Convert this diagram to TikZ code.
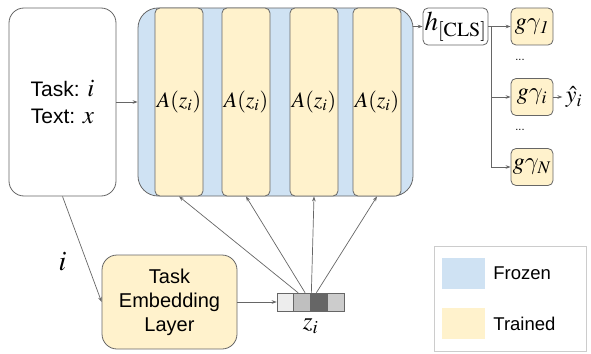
\documentclass[tikz,border=0pt]{standalone}
\usepackage{mathptmx}
\usepackage[no-math]{fontspec}
\setmainfont{Liberation Sans}
\usepackage{xcolor}
\usepackage{tikz}
\usetikzlibrary{calc,positioning,arrows.meta}
\definecolor{frozen}{HTML}{CFE2F3}
\definecolor{trained}{HTML}{FFF2CC}
\definecolor{edge}{HTML}{666666}
\DeclareSymbolFont{lmletters}{OML}{lmm}{m}{it}
\DeclareMathSymbol{\lmgamma}{\mathord}{lmletters}{"0D}

\begin{document}
\begin{tikzpicture}[x=1pt,y=-1pt,>={Stealth[length=5pt,width=3.6pt]},
  blk/.style={draw=edge,line width=0.8pt,inner sep=0pt,align=center},
  conn/.style={draw=edge,line width=0.7pt,->},
  cell/.style={draw=edge,line width=0.5pt,inner sep=0pt,minimum width=16.75pt,minimum height=18pt},
  swatch/.style={inner sep=0pt,minimum width=43pt,minimum height=31pt}]
\useasboundingbox (0,0) rectangle (591,353);
\node[blk,rounded corners=15pt,minimum width=107pt,minimum height=188pt,
  font=\fontsize{21}{27}\selectfont] (input) at (62.5,102)
  {Task: {\fontsize{25}{27}\selectfont$i$}\\Text: {\fontsize{25}{27}\selectfont$x$}};
\node[blk,fill=frozen,rounded corners=20pt,minimum width=275pt,minimum height=188pt] (enc) at (275.5,102) {};
\foreach \k/\xx in {1/179,2/246,3/314,4/377}
  \node[blk,fill=trained,rounded corners=5pt,minimum width=48pt,minimum height=188pt,
    font=\fontsize{22}{26}\selectfont] (col\k) at (\xx,102) {$A(z_i)$};
\node[blk,fill=white,rounded corners=5pt,minimum width=65pt,minimum height=37pt,
  font=\fontsize{27}{30}\selectfont] (cls) at (455.5,26.5) {$h_{\mathrm{[CLS]}}$};
\foreach \n/\yy/\s in {g1/26.5/\mathit{1},gi/97/i,gN/167/N}
  \node[blk,fill=trained,rounded corners=5pt,minimum width=42pt,minimum height=37pt,
    font=\fontsize{24}{26}\selectfont] (\n) at (532,\yy) {$g\lmgamma_{\s}$};
\node[font=\fontsize{11}{12}\selectfont] (dots1) at (520,60) {...};
\node[font=\fontsize{11}{12}\selectfont] (dots2) at (520,130) {...};
\node[font=\fontsize{24}{26}\selectfont] (yhat) at (574,97) {$\hat{y}_i$};
\node[blk,fill=trained,rounded corners=15pt,minimum width=135pt,minimum height=94pt,
  font=\fontsize{20}{24}\selectfont] (emb) at (169.5,302) {Task\\Embedding\\Layer};
\foreach \k/\s in {1/7,2/25,3/60,4/20}
  \node[cell,fill=black!\s] (z\k) at ({268.6+16.75*\k},302) {};
\node[font=\fontsize{25}{27}\selectfont] (zlab) at (310.5,326) {$z_i$};
% legend
\node[draw=black!20,line width=0.8pt,inner sep=0pt,minimum width=152pt,minimum height=105pt] (legend) at (510,299) {};
\node[swatch,fill=frozen] (kfrozen) at (463.5,273.5) {};
\node[swatch,fill=trained] (ktrained) at (463.5,323.5) {};
\node[inner sep=0pt,right=8pt of kfrozen,font=\fontsize{18.5}{22}\selectfont] (tfrozen) {Frozen};
\node[inner sep=0pt,right=8pt of ktrained,font=\fontsize{18.5}{22}\selectfont] (ttrained) {Trained};

\draw[conn] (input.east) -- (enc.west);
\draw[conn] (enc.east |- cls.west) -- (cls.west);
\coordinate (split) at ($(cls.east)+(3,0)$);
\draw[conn] (cls.east) -- (g1.west);
\draw[conn] (split) |- (gN.west);
\draw[conn] (split |- gi.west) -- (gi.west);
\draw[conn] (gi.east) -- (yhat.west);
\draw[conn] (input.south) -- (emb.west)
  node[pos=0.62,left=20pt,inner sep=0pt,font=\fontsize{28}{30}\selectfont] (ilab) {$i$};
\draw[conn] (emb.east) -- (z1.west);
\foreach \k/\from/\dx in {1/z2/-4,2/z2/3,3/z3/-7.5,4/z3/-2.5}
  \draw[conn] ([xshift=\dx pt]\from.north) -- (col\k.south);
\end{tikzpicture}
\end{document}
